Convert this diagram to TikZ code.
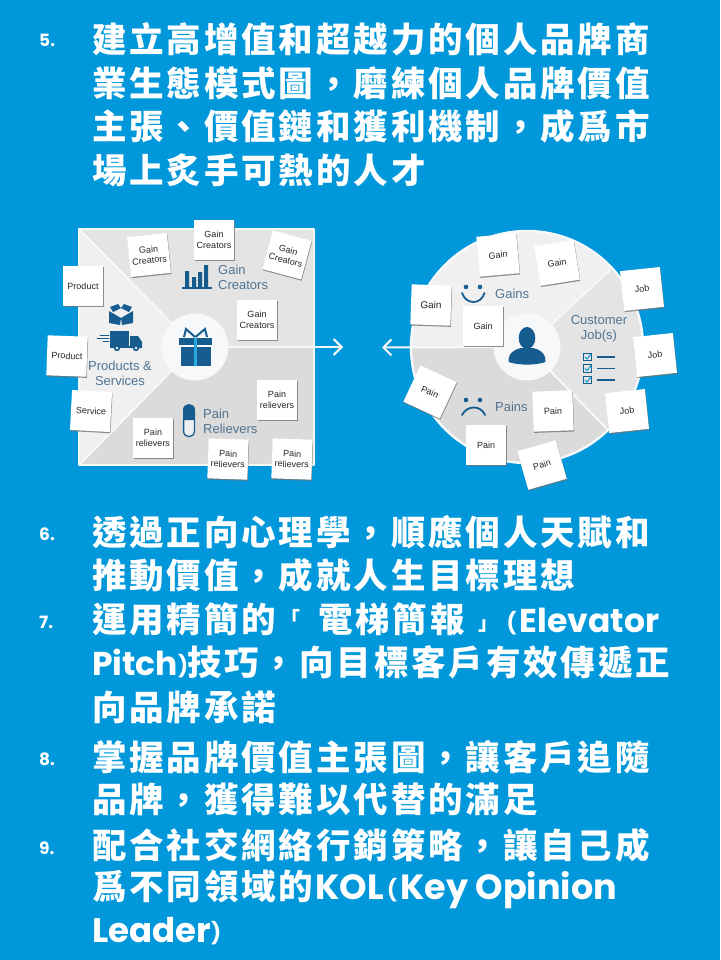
\documentclass[tikz,border=0pt]{standalone}
\usepackage{fontspec}
\usetikzlibrary{shadows,arrows.meta}
\setmainfont{Liberation Sans}
\newfontfamily\cjk[LetterSpace=8.3]{Noto Sans CJK TC}
\newfontfamily\cjkplain{Noto Sans CJK TC}
\newfontfamily\lat{Poppins}
\definecolor{bgblue}{RGB}{0,152,218}
\definecolor{iconblue}{RGB}{22,92,142}
\definecolor{labelblue}{RGB}{80,115,145}
\definecolor{ltA}{RGB}{240,240,240}
\definecolor{ltB}{RGB}{228,228,228}
\definecolor{ltC}{RGB}{219,219,219}
\definecolor{rim}{RGB}{246,248,250}
\tikzset{
  x=1pt,y=-1pt,
  headline/.style={anchor=base west,inner sep=0pt,text=white,font=\cjk\bfseries\fontsize{34.5}{34.5}\selectfont},
  numline/.style={anchor=base west,inner sep=0pt,text=white,font=\lat\bfseries\fontsize{17}{17}\selectfont},
  note/.style={fill=white,minimum width=#1,minimum height=#1,inner sep=0pt,align=center,text=black!85,
    font=\fontsize{9}{10.5}\selectfont,drop shadow={shadow xshift=0.5pt,shadow yshift=-1.2pt,fill=black!55,opacity=.8}},
  note/.default=40pt,
  tag/.style={text=labelblue,inner sep=0pt,align=left,font=\fontsize{13}{15}\selectfont},
  hub/.style={circle,fill=rim,minimum size=67pt,inner sep=0pt},
  flow/.style={draw=rim,line width=2pt,-{Straight Barb[length=8pt,width=16pt,line width=2pt]}},
  divider/.style={draw=rim,line width=2pt},
  ico/.style={fill=iconblue,draw=none},
  icoline/.style={draw=iconblue,line width=1.5pt,fill=none,line cap=round},
}
\newcommand{\LT}[1]{{\lat\bfseries\fontsize{33}{33}\selectfont #1}}
\newcommand{\LB}[1]{{\lat\bfseries\fontsize{34}{34}\selectfont #1}}
\newcommand{\LC}[1]{{\lat\bfseries\fontsize{35}{35}\selectfont #1}}
\newcommand{\PL}{{\lat\fontsize{21}{21}\selectfont\raisebox{2pt}{(}}}
\newcommand{\PR}{{\lat\fontsize{21}{21}\selectfont\raisebox{2pt}{)}}}
\newcommand{\BL}{{\cjkplain\bfseries\fontsize{20}{20}\selectfont\raisebox{6pt}{「}}}
\newcommand{\BR}{{\cjkplain\bfseries\fontsize{20}{20}\selectfont\raisebox{2pt}{」}}}
\begin{document}
\begin{tikzpicture}
\useasboundingbox (0,0) rectangle (720,960);
\fill[bgblue] (0,0) rectangle (720,960);
% text
\node[numline] (n5) at (39,47) {5.};
\node[headline] (a1) at (92,53) {建立高增值和超越力的個人品牌商};
\node[headline] (a2) at (92,97) {業生態模式圖，磨練個人品牌價值};
\node[headline] (a3) at (92,140) {主張、價值鏈和獲利機制，成爲市};
\node[headline] (a4) at (92,183) {場上炙手可熱的人才};
\node[numline] (n6) at (39,540) {6.};
\node[headline] (b1) at (92,545) {透過正向心理學，順應個人天賦和};
\node[headline] (b2) at (92,588) {推動價值，成就人生目標理想};
\node[numline] (n7) at (39,628) {7.};
\node[headline] (c1) at (92,632) {運用精簡的\kern4pt\BL\kern18pt 電梯簡報\kern14pt\BR\kern8pt\PL\kern3pt\LT{Elevator}};
\node[headline] (c2) at (92,675) {\makebox[95pt][l]{\LT{Pitch}\PR}技巧，向目標客戶有效傳遞正};
\node[headline] (c3) at (92,720) {向品牌承諾};
\node[numline] (n8) at (39,765) {8.};
\node[headline] (d1) at (92,770) {掌握品牌價值主張圖，讓客戶追隨};
\node[headline] (d2) at (92,812) {品牌，獲得難以代替的滿足};
\node[numline] (n9) at (39,854) {9.};
\node[headline] (e1) at (92,858) {配合社交網絡行銷策略，讓自己成};
\node[headline] (e2) at (92,899) {爲不同領域的\kern2pt\LC{KOL}\kern3pt\PL\kern3pt\LC{Key Opinion}};
\node[headline] (e3) at (92,942) {\LB{Leader}\PR};

% left square
\coordinate (sqA) at (79,229); \coordinate (sqB) at (314,229);
\coordinate (sqC) at (314,465); \coordinate (sqD) at (79,465);
\coordinate (vc) at (195,347); \coordinate (sqE) at (314,347);
\fill[ltA] (sqA) -- (vc) -- (sqD) -- cycle;
\fill[ltB] (sqA) -- (sqB) -- (sqE) -- (vc) -- cycle;
\fill[ltC] (sqD) -- (sqC) -- (sqE) -- (vc) -- cycle;
\draw[divider] (sqA) -- (vc) (sqD) -- (vc);
\draw[draw=rim,line width=2.4pt,line join=round] (sqA) -- (sqB) -- (sqC) -- (sqD) -- cycle;
\coordinate (tipL) at (343,347);
\node[hub] (vp) at (vc) {};
\draw[flow] (vp) -- (tipL);
% gift
\fill[ico] (179,338) rectangle (212,345);
\fill[ico] (181,346.5) rectangle (211,366);
\fill[bgblue!85!white] (194,338) rectangle (197,366);
\draw[icoline,line width=2pt,line cap=butt,line join=miter] (195,337) -- (186,329) -- (184,337) (195.5,337) -- (205,329) -- (207,337);
% bars
\fill[ico] (185,271) rectangle (189,287) (192,277) rectangle (196,287) (198,272) rectangle (202,287) (204,265) rectangle (208,287);
\fill[ico] (182,287) rectangle (212,288.5);
\node[tag,anchor=west] (gct) at (218,277) {Gain\\Creators};
% box
\fill[ico] (121,318) -- (109,311) -- (109,323) -- (120,325) -- cycle;
\fill[ico] (121,318) -- (133,311) -- (133,323) -- (122,325) -- cycle;
\fill[ico] (110,307) -- (118,304) -- (121,308) -- (113,312) -- cycle;
\fill[ico] (132,307) -- (124,304) -- (121,308) -- (129,312) -- cycle;
% truck
\fill[ico] (110,331) rectangle (129,346);
\fill[ico] (130,336) -- (138,336) -- (142,342) -- (142,348) -- (130,348) -- cycle;
\fill[ico] (110,346) rectangle (142,348);
\fill[ico] (117,348) circle[radius=3.2pt] (136,348) circle[radius=3.2pt];
\fill[ltA] (117,348) circle[radius=1.3pt] (136,348) circle[radius=1.3pt];
\draw[icoline,line width=.9pt] (100,335) -- (109,335) (97,338) -- (109,338) (103,341) -- (109,341);
\node[tag,align=center] (pst) at (120,373) {Products \&\\Services};
% pill
\fill[ltA] (183.6,420) -- (183.6,431) .. controls (183.6,438.5) and (194.4,438.5) .. (194.4,431) -- (194.4,420) -- cycle;
\fill[ico] (183,420) -- (183,410) .. controls (183,402) and (195,402) .. (195,410) -- (195,420) -- cycle;
\draw[icoline,line width=1.3pt] (183.6,420) -- (183.6,431) .. controls (183.6,438.5) and (194.4,438.5) .. (194.4,431) -- (194.4,420);
\node[tag,anchor=west] (prt) at (203,421) {Pain\\Relievers};

% left notes
\node[note,rotate=6] (g1) at (149,255) {Gain\\Creators};
\node[note] (g2) at (214,240) {Gain\\Creators};
\node[note,rotate=-15] (g3) at (287,255) {Gain\\Creators};
\node[note] (g4) at (257,320) {Gain\\Creators};
\node[note] (p1) at (83,286) {Product};
\node[note,rotate=-2] (p2) at (67,356) {Product};
\node[note,rotate=-3] (s1) at (91,411) {Service};
\node[note] (r1) at (277,400) {Pain\\relievers};
\node[note] (r2) at (153,438) {Pain\\relievers};
\node[note,rotate=-2] (r3) at (228,459) {Pain\\relievers};
\node[note,rotate=-2] (r4) at (292,459) {Pain\\relievers};

% right circle
\coordinate (cc) at (527,347);
\coordinate (ne) at (610,270); \coordinate (se) at (608,430); \coordinate (we) at (411,347);
\begin{scope}
\clip (cc) circle[radius=116pt];
\fill[ltA] (cc) -- (ne) -- (700,200) -- (527,100) -- (350,200) -- (350,347) -- cycle;
\fill[ltB] (cc) -- (ne) -- (700,200) -- (700,500) -- (se) -- cycle;
\fill[ltC] (cc) -- (se) -- (700,500) -- (527,600) -- (350,500) -- (350,347) -- cycle;
\end{scope}
\draw[draw=rim,line width=2.4pt] (cc) circle[radius=116pt];
\draw[divider] (cc) -- (ne) (cc) -- (se);
\coordinate (tipR) at (382,347.5);
\node[hub] (cu) at (cc) {};
\draw[flow] (cu) -- (tipR);
% person
\fill[ico] (527,338) ellipse[x radius=8.3pt,y radius=11pt];
\fill[ico] (508.5,362) .. controls (508,352) and (516,349) .. (521,348) -- (533,348) .. controls (538,349) and (546,352) .. (545.5,362) .. controls (535,365.5) and (519,365.5) .. (508.5,362) -- cycle;
% smile
\fill[ico] (466,287) circle[radius=2.3pt] (480,287) circle[radius=2.3pt];
\draw[icoline,line width=1.8pt] (462,293) .. controls (466,305) and (481,305) .. (484.5,293);
\node[tag,anchor=west] (gt) at (495,294) {Gains};
% frown
\fill[ico] (466,400) circle[radius=2.3pt] (480,400) circle[radius=2.3pt];
\draw[icoline,line width=1.8pt] (462,415) .. controls (467,405) and (481,405) .. (485,415);
\node[tag,anchor=west] (pt) at (495,407) {Pains};
\node[tag,align=center] (jt) at (599,329) {Customer\\Job(s)};
% checklist
\foreach \cy in {357,368.5,380}{
  \draw[iconblue,line width=1pt,fill=ltB] (583,\cy-3.8) rectangle (591,\cy+3.8);
  \draw[bgblue,line width=1pt] (585,\cy) -- (587,\cy+2) -- (591,\cy-3);
  \draw[iconblue,line width=1.1pt] (597,\cy) -- (615,\cy);
}
% right notes
\node[note,rotate=5] (h1) at (498,255) {Gain};
\node[note,rotate=9] (h2) at (557,263) {Gain};
\node[note,font=\fontsize{10}{12}\selectfont,rotate=-2] (h3) at (431,305) {Gain};
\node[note] (h4) at (483,326) {Gain};
\node[note,rotate=6] (j1) at (642,289) {Job};
\node[note,rotate=6] (j2) at (655,355) {Job};
\node[note,rotate=6] (j3) at (627,411) {Job};
\node[note,rotate=-25] (q1) at (430,392) {Pain};
\node[note,rotate=2] (q2) at (553,411) {Pain};
\node[note] (q3) at (486,445) {Pain};
\node[note,rotate=16] (q4) at (542,465) {Pain};
\end{tikzpicture}
\end{document}
